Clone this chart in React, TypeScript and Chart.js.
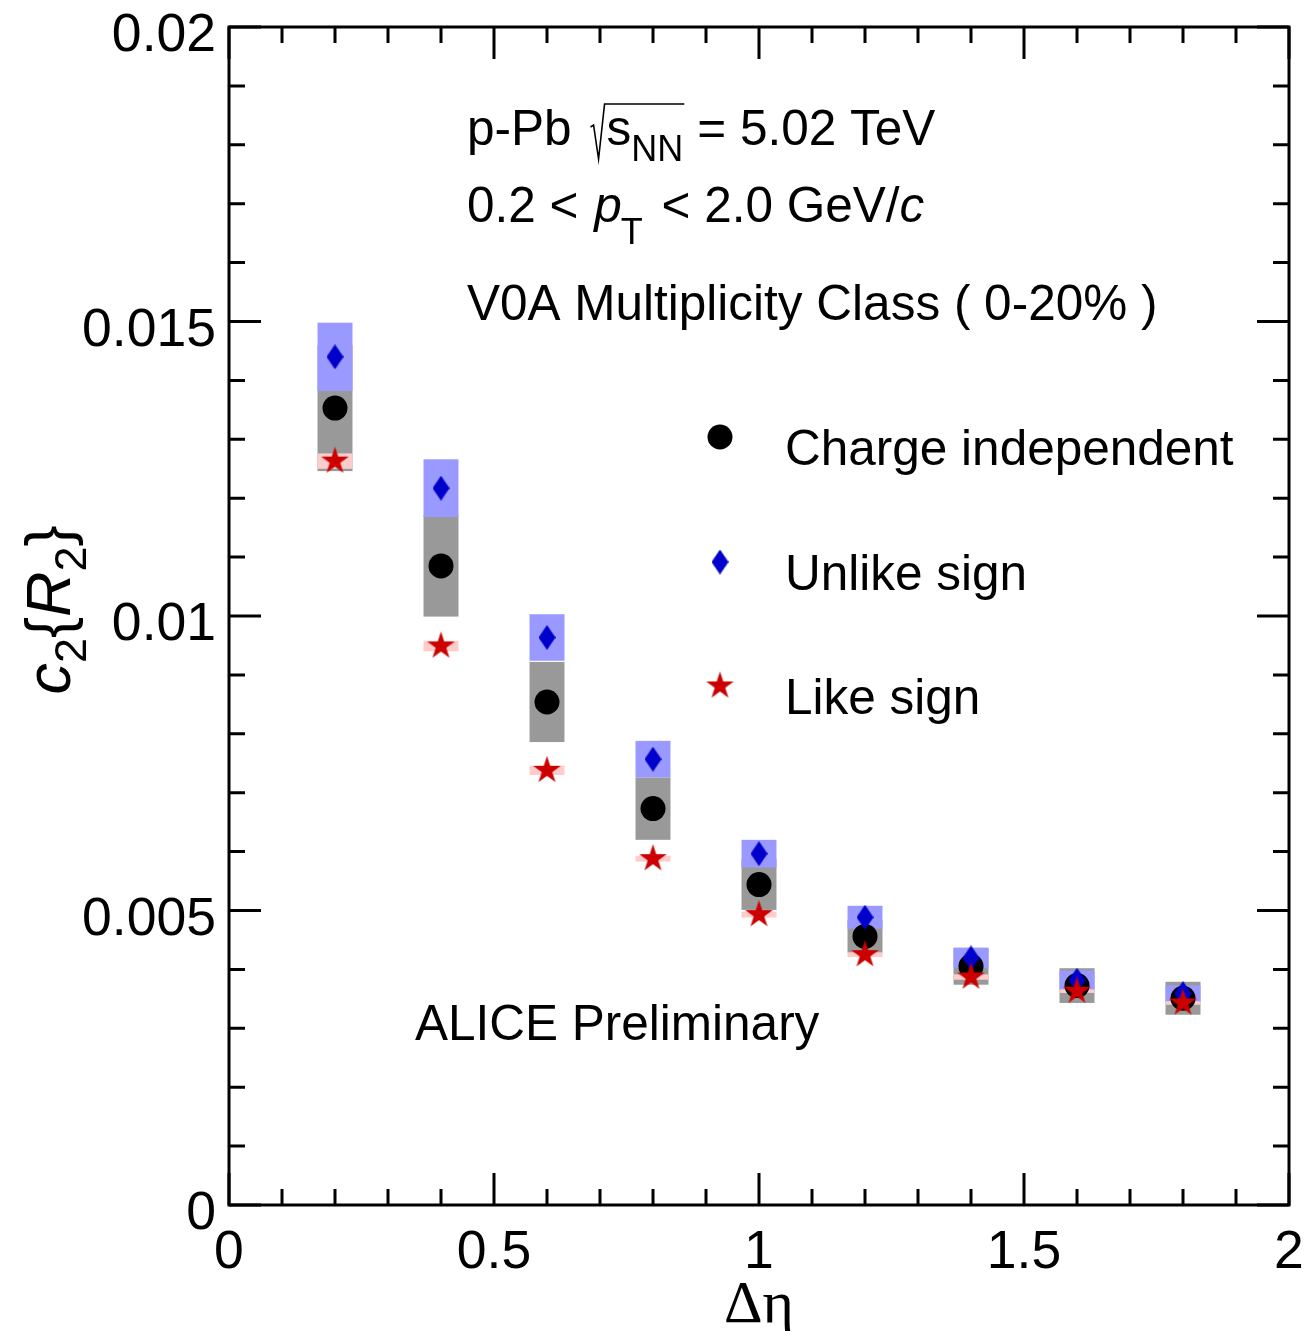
import { useEffect, useRef } from 'react';
import { Chart, registerables } from 'chart.js';

Chart.register(...registerables);

// ---------------- data ----------------
const etaValues = [0.2, 0.4, 0.6, 0.8, 1.0, 1.2, 1.4, 1.6, 1.8];

const chargeIndep = [0.01353, 0.01085, 0.00854, 0.00673, 0.00544, 0.00456, 0.00405, 0.003725, 0.00351];
const chargeIndepSys = [0.00107, 0.00086, 0.00068, 0.00053, 0.00043, 0.00028, 0.00031, 0.000295, 0.00028];

const unlikeSign = [0.0144, 0.01217, 0.009635, 0.00757, 0.005965, 0.004885, 0.004195, 0.003815, 0.00359];
const unlikeSignSys = [0.00058, 0.00049, 0.000395, 0.00031, 0.000235, 0.000195, 0.000175, 0.000165, 0.00014];

const likeSign = [0.01263, 0.00949, 0.00738, 0.00588, 0.00493, 0.00425, 0.00387, 0.00363, 0.00343];
const likeSignSys = [0.00013, 0.00009, 0.00008, 0.00005, 0.00005, 0.00004, 0.000045, 0.00003, 0.00003];

const xTickValues = [0, 0.5, 1, 1.5, 2];
const xTickLabels = ['0', '0.5', '1', '1.5', '2'];
const yTickValues = [0, 0.005, 0.01, 0.015, 0.02];
const yTickLabels = ['0', '0.005', '0.01', '0.015', '0.02'];

const seriesLabels = ['Charge independent', 'Unlike sign', 'Like sign'];

// ---------------- style ----------------
const W = 1305;
const H = 1331;
const FONT = '"Liberation Sans", Arial, Helvetica, sans-serif';
const SERIF = '"Liberation Serif", "Times New Roman", serif';
const BOX_HALF = 0.033;

function makeDiamond(w: number, h: number, color: string) {
  const c = document.createElement('canvas');
  c.width = w;
  c.height = h;
  const g = c.getContext('2d')!;
  g.fillStyle = color;
  g.beginPath();
  g.moveTo(w / 2, 0);
  g.lineTo(w, h / 2);
  g.lineTo(w / 2, h);
  g.lineTo(0, h / 2);
  g.closePath();
  g.fill();
  return c;
}

function makeStar(R: number, color: string) {
  const s = Math.ceil(R * 2 + 2);
  const c = document.createElement('canvas');
  c.width = s;
  c.height = s;
  const g = c.getContext('2d')!;
  g.fillStyle = color;
  g.beginPath();
  const cx = s / 2;
  const cy = s / 2;
  const r = R * 0.382;
  for (let i = 0; i < 10; i++) {
    const a = -Math.PI / 2 + (i * Math.PI) / 5;
    const rr = i % 2 === 0 ? R : r;
    const px = cx + rr * Math.cos(a);
    const py = cy + rr * Math.sin(a);
    if (i === 0) g.moveTo(px, py);
    else g.lineTo(px, py);
  }
  g.closePath();
  g.fill();
  return c;
}

export default function App() {
  const ref = useRef<HTMLCanvasElement | null>(null);

  useEffect(() => {
    document.body.style.margin = '0';
    const canvas = ref.current!;
    const diamond = makeDiamond(17, 25, '#0000cc');
    const star = makeStar(14.5, '#cc0000');

    const boxPlugin = {
      id: 'sysBoxes',
      beforeDatasetsDraw(chart: any) {
        const { ctx } = chart;
        const x = chart.scales.x;
        const y = chart.scales.y;
        const draw = (vals: number[], sys: number[], color: string) => {
          ctx.fillStyle = color;
          etaValues.forEach((e, i) => {
            const x0 = x.getPixelForValue(e - BOX_HALF);
            const x1 = x.getPixelForValue(e + BOX_HALF);
            const y0 = y.getPixelForValue(vals[i] + sys[i]);
            const y1 = y.getPixelForValue(vals[i] - sys[i]);
            ctx.fillRect(x0, y0, x1 - x0, y1 - y0);
          });
        };
        ctx.save();
        draw(chargeIndep, chargeIndepSys, '#999999');
        draw(unlikeSign, unlikeSignSys, '#9999ff');
        draw(likeSign, likeSignSys, '#ffcccc');
        ctx.restore();
      },
    };

    const framePlugin = {
      id: 'rootFrame',
      afterDraw(chart: any) {
        const { ctx, chartArea } = chart;
        const x = chart.scales.x;
        const y = chart.scales.y;
        const { left, right, top, bottom } = chartArea;
        ctx.save();
        ctx.strokeStyle = '#000';
        ctx.lineWidth = 3;
        ctx.lineCap = 'butt';
        ctx.strokeRect(left, top, right - left, bottom - top);

        // x ticks
        ctx.beginPath();
        for (let k = 0; k <= 20; k++) {
          const v = k * 0.1;
          const px = x.getPixelForValue(v);
          const len = k % 5 === 0 ? 32 : 16;
          ctx.moveTo(px, bottom);
          ctx.lineTo(px, bottom - len);
          ctx.moveTo(px, top);
          ctx.lineTo(px, top + len);
        }
        // y ticks
        for (let k = 0; k <= 20; k++) {
          const v = k * 0.001;
          const py = y.getPixelForValue(v);
          const len = k % 5 === 0 ? 32 : 16;
          ctx.moveTo(left, py);
          ctx.lineTo(left + len, py);
          ctx.moveTo(right, py);
          ctx.lineTo(right - len, py);
        }
        ctx.stroke();

        // tick labels
        ctx.fillStyle = '#000';
        ctx.font = `53.5px ${FONT}`;
        ctx.textAlign = 'center';
        ctx.textBaseline = 'alphabetic';
        xTickValues.forEach((v, i) => {
          ctx.fillText(xTickLabels[i], x.getPixelForValue(v), bottom + 63);
        });
        ctx.textAlign = 'right';
        yTickValues.forEach((v, i) => {
          ctx.fillText(yTickLabels[i], left - 13, y.getPixelForValue(v) + 24);
        });

        // x title
        ctx.textAlign = 'center';
        ctx.font = `60px ${SERIF}`;
        ctx.fillText('\u0394\u03b7', x.getPixelForValue(1), 1322);

        // y title  c_2{R_2}
        ctx.save();
        ctx.translate(70, 610);
        ctx.rotate(-Math.PI / 2);
        ctx.textAlign = 'left';
        const F = 63;
        const parts = [
          { t: 'c', f: `italic ${F}px ${FONT}`, dy: 0 },
          { t: '2', f: `${Math.round(F * 0.72)}px ${FONT}`, dy: 16 },
          { t: '{', f: `${F}px ${FONT}`, dy: 0 },
          { t: 'R', f: `italic ${F}px ${FONT}`, dy: 0 },
          { t: '2', f: `${Math.round(F * 0.72)}px ${FONT}`, dy: 16 },
          { t: '}', f: `${F}px ${FONT}`, dy: 0 },
        ];
        let total = 0;
        parts.forEach((p) => {
          ctx.font = p.f;
          total += ctx.measureText(p.t).width;
        });
        let cx = -total / 2;
        parts.forEach((p) => {
          ctx.font = p.f;
          ctx.fillText(p.t, cx, p.dy);
          cx += ctx.measureText(p.t).width;
        });
        ctx.restore();

        // annotation text
        ctx.textAlign = 'left';
        const TF = 49.5;
        const reg = `${TF}px ${FONT}`;
        const ita = `italic ${TF}px ${FONT}`;
        const sub = `${Math.round(TF * 0.72)}px ${FONT}`;

        // line 1
        let tx = 467;
        let by = 145;
        ctx.font = reg;
        ctx.fillText('p-Pb', tx, by);
        tx += ctx.measureText('p-Pb').width + 22;
        ctx.lineWidth = 1.6;
        ctx.beginPath();
        ctx.moveTo(tx - 3, by - 18);
        ctx.lineTo(tx, by - 20);
        ctx.lineTo(tx + 5, by + 14);
        ctx.lineTo(tx + 11, by - 41);
        const sStart = tx + 13;
        ctx.font = reg;
        const sw = ctx.measureText('s').width;
        ctx.font = sub;
        const nnw = ctx.measureText('NN').width;
        ctx.lineTo(sStart + sw + nnw + 1, by - 41);
        ctx.stroke();
        ctx.font = reg;
        ctx.fillText('s', sStart, by);
        ctx.font = sub;
        ctx.fillText('NN', sStart + sw, by + 16);
        ctx.font = reg;
        ctx.fillText('= 5.02 TeV', sStart + sw + nnw + 14, by);

        // line 2
        tx = 467;
        by = 222;
        ctx.font = reg;
        ctx.fillText('0.2 < ', tx, by);
        tx += ctx.measureText('0.2 < ').width + 2;
        ctx.font = ita;
        ctx.fillText('p', tx, by);
        tx += ctx.measureText('p').width;
        ctx.font = sub;
        ctx.fillText('T', tx - 1, by + 22);
        tx += ctx.measureText('T').width + 4;
        ctx.font = reg;
        ctx.fillText(' < 2.0 GeV/', tx, by);
        tx += ctx.measureText(' < 2.0 GeV/').width;
        ctx.font = ita;
        ctx.fillText('c', tx, by);

        // line 3
        ctx.font = reg;
        ctx.fillText('V0A Multiplicity Class ( 0-20% )', 467, 320);

        // ALICE Preliminary
        ctx.fillText('ALICE Preliminary', 415, 1040);

        // legend
        const legY = [437, 562, 686];
        const mx = 720;
        ctx.fillStyle = '#000';
        ctx.beginPath();
        ctx.arc(mx, legY[0], 12.5, 0, Math.PI * 2);
        ctx.fill();
        ctx.drawImage(diamond, mx - diamond.width / 2, legY[1] - diamond.height / 2);
        ctx.drawImage(star, mx - star.width / 2, legY[2] - star.height / 2);
        ctx.font = reg;
        seriesLabels.forEach((s, i) => {
          ctx.fillText(s, 785, legY[i] + 28);
        });
        ctx.restore();
      },
    };

    const chart = new Chart(canvas, {
      type: 'scatter',
      data: {
        datasets: [
          {
            label: seriesLabels[0],
            data: etaValues.map((e, i) => ({ x: e, y: chargeIndep[i] })),
            pointStyle: 'circle',
            pointRadius: 12.5,
            backgroundColor: '#000',
            borderWidth: 0,
            order: 3,
          },
          {
            label: seriesLabels[1],
            data: etaValues.map((e, i) => ({ x: e, y: unlikeSign[i] })),
            pointStyle: diamond as any,
            pointRadius: 12,
            backgroundColor: '#0000cc',
            borderWidth: 0,
            order: 2,
          },
          {
            label: seriesLabels[2],
            data: etaValues.map((e, i) => ({ x: e, y: likeSign[i] })),
            pointStyle: star as any,
            pointRadius: 14,
            backgroundColor: '#cc0000',
            borderWidth: 0,
            order: 1,
          },
        ],
      },
      options: {
        responsive: false,
        animation: false,
        events: [],
        layout: { padding: { left: 229, top: 27, right: W - 1289, bottom: H - 1205 } },
        plugins: { legend: { display: false }, tooltip: { enabled: false }, title: { display: false } },
        scales: {
          x: { type: 'linear', min: 0, max: 2, display: false },
          y: { type: 'linear', min: 0, max: 0.02, display: false },
        },
      },
      plugins: [boxPlugin, framePlugin],
    });
    return () => chart.destroy();
  }, []);

  return (
    <div style={{ position: 'absolute', left: 0, top: 0, width: W, height: H, background: '#fff' }}>
      <canvas ref={ref} width={W} height={H} style={{ display: 'block' }} />
    </div>
  );
}
